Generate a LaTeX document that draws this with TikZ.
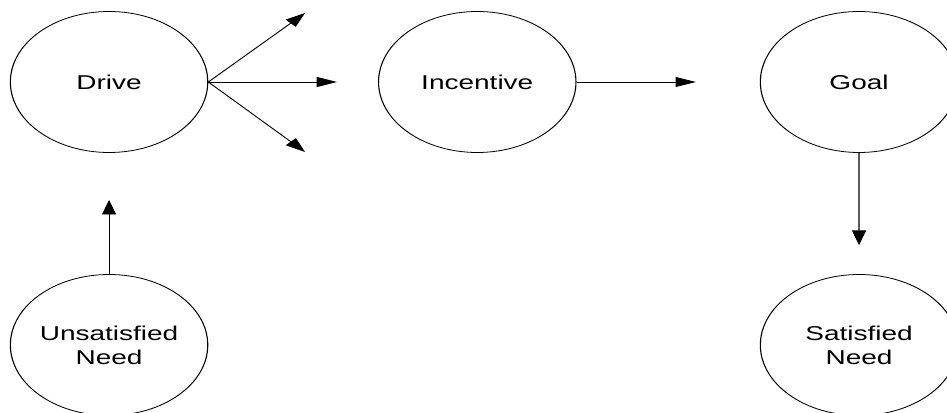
\documentclass[tikz,border=0pt]{standalone}
\usepackage{fontspec}
\setmainfont{Liberation Sans}
\usetikzlibrary{positioning,arrows.meta}

\begin{document}
\begin{tikzpicture}[x=1pt, y=1pt,
node distance=263pt, line width=0.8pt,
stage/.style={draw, circle, minimum size=141pt, inner sep=0pt, align=center, font=\fontsize{20}{24}\selectfont},
link/.style={-{Triangle[length=14.5pt,width=10pt]}}]
\useasboundingbox (0,0) rectangle (947,412);
% the whole chart is stretched sideways
\begin{scope}[transform canvas={xscale=1.4}]
\node[stage] (drive) at (77.9,330) {Drive};
\node[stage] (incentive) [right of=drive] {Incentive};
\node[stage] (goal) [right of=incentive, xshift=9.7pt] {Goal};
\node[stage] (unsat) [below of=drive] {Unsatisfied\\Need};
\node[stage] (sat) [below of=goal] {Satisfied\\Need};
\coordinate (up) at (217.9,399);
\coordinate (ahead) at (240.7,330);
\coordinate (down) at (217.9,260);
\coordinate (next) at (497,330);
\coordinate (fall) at (613.6,167);
\coordinate (rise) at (77.9,212);
\draw[link] (drive.east) -- (up);
\draw[link] (drive.east) -- (ahead);
\draw[link] (drive.east) -- (down);
\draw[link] (incentive.east) -- (next);
\draw[link] (goal.south) -- (fall);
\draw[link] (unsat.north) -- (rise);
\end{scope}
\end{tikzpicture}
\end{document}
